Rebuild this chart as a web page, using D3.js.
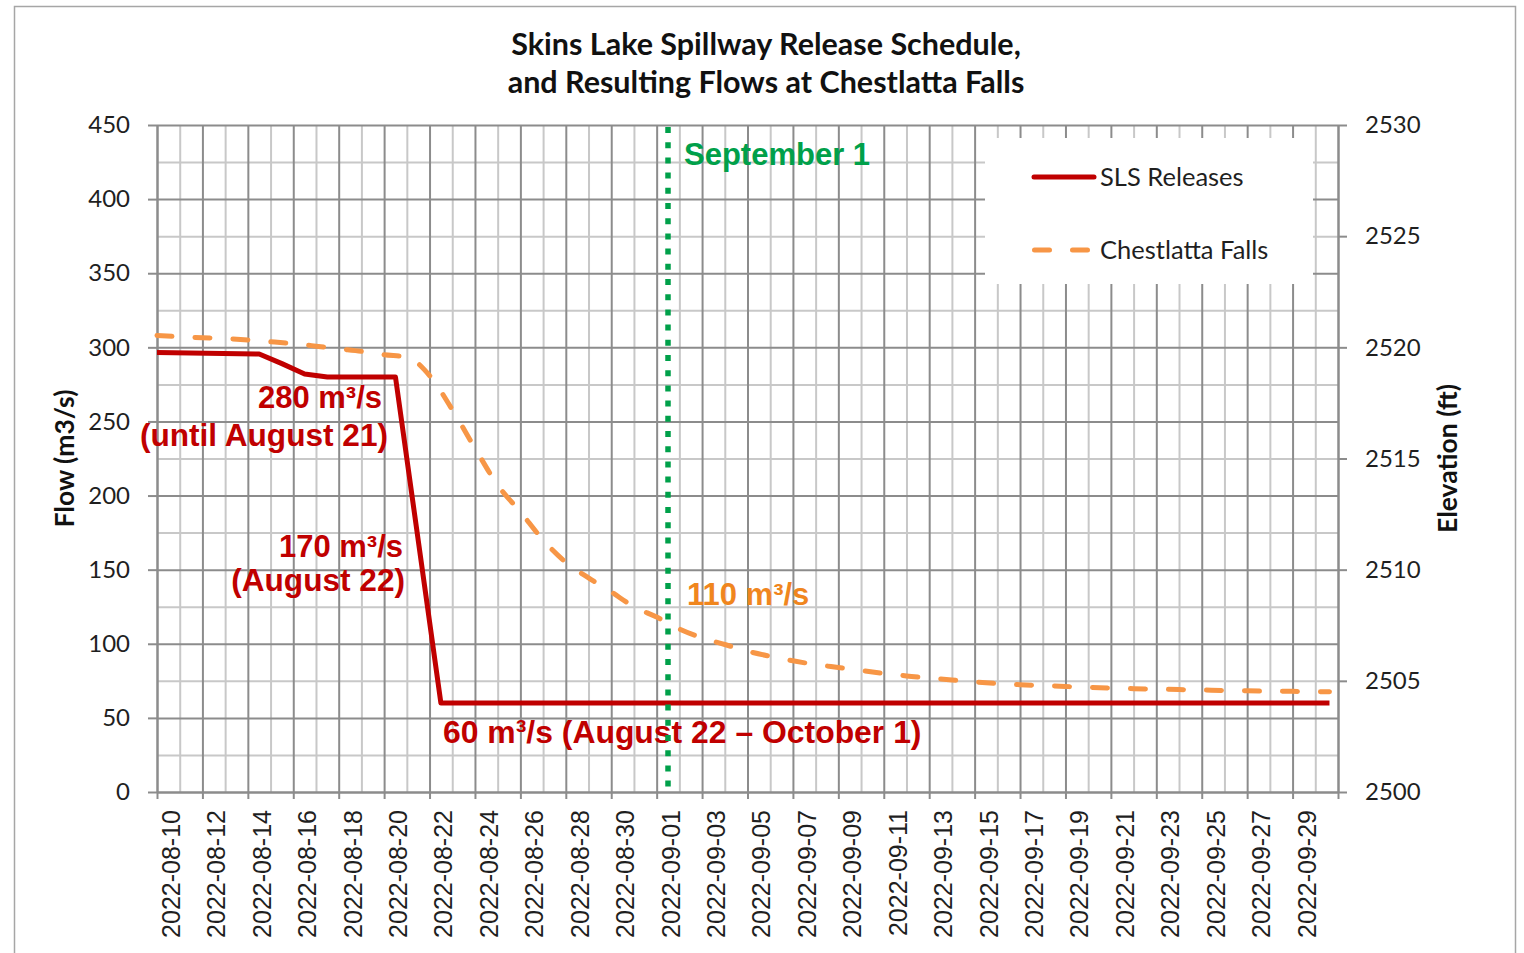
<!DOCTYPE html>
<html><head><meta charset="utf-8">
<script src="https://cdn.jsdelivr.net/npm/d3@7"></script>
<style>body{margin:0;background:#fff;} svg{display:block;}</style>
</head><body><svg id="c" width="1524" height="953"></svg>
<script>
// ---------- DATA ----------
const chartTitle = ["Skins Lake Spillway Release Schedule,", "and Resulting Flows at Chestlatta Falls"];
const xTickLabels = ["2022-08-10","2022-08-12","2022-08-14","2022-08-16","2022-08-18","2022-08-20","2022-08-22",
  "2022-08-24","2022-08-26","2022-08-28","2022-08-30","2022-09-01","2022-09-03","2022-09-05","2022-09-07",
  "2022-09-09","2022-09-11","2022-09-13","2022-09-15","2022-09-17","2022-09-19","2022-09-21","2022-09-23",
  "2022-09-25","2022-09-27","2022-09-29"];
const xDomain = ["2022-08-10", "2022-10-01"];
const yTicks = [0,50,100,150,200,250,300,350,400,450];
const y2Ticks = [2500,2505,2510,2515,2520,2525,2530];

const slsDates = ["2022-08-10T00:00","2022-08-14T12:00","2022-08-15T12:00","2022-08-16T12:00","2022-08-17T12:00",
  "2022-08-20T12:00","2022-08-22T12:00","2022-09-30T15:00"];
const slsValues = [296.5,295.5,289,282,280,280,60,60];

const fallsDates = ["2022-08-10","2022-08-11","2022-08-12","2022-08-13","2022-08-14","2022-08-15","2022-08-16",
  "2022-08-17","2022-08-18","2022-08-19","2022-08-20","2022-08-21","2022-08-22","2022-08-23","2022-08-24",
  "2022-08-25","2022-08-26","2022-08-27","2022-08-28","2022-08-29","2022-08-30","2022-08-31","2022-09-01",
  "2022-09-02","2022-09-03","2022-09-04","2022-09-05","2022-09-06","2022-09-07","2022-09-08","2022-09-09",
  "2022-09-10","2022-09-11","2022-09-12","2022-09-13","2022-09-14","2022-09-15","2022-09-16","2022-09-17",
  "2022-09-18","2022-09-19","2022-09-20","2022-09-21","2022-09-22","2022-09-23","2022-09-24","2022-09-25",
  "2022-09-26","2022-09-27","2022-09-28","2022-09-29","2022-09-30","2022-09-30T15:00"];
const fallsValues = [308,307.2,306.5,306,305,303.8,302.5,300.8,299,297.3,295,293.5,281,258,232,
  207,189,170,155,144.5,135,125,118,110,104,99.5,95,91.5,88.5,86,84,82,80,78.3,77,75.6,74.3,73.2,
  72.4,71.8,71.2,70.6,70.1,69.7,69.4,69.1,68.8,68.5,68.3,68.1,67.9,67.7,67.6];

const markerDate = "2022-09-01T12:00";
const seriesNames = ["SLS Releases", "Chestlatta Falls"];

// ---------- SETUP ----------
const parse = s => d3.timeParse(s.length > 10 ? "%Y-%m-%dT%H:%M" : "%Y-%m-%d")(s);
const svg = d3.select("#c");
const L = 157, R = 1338, T = 125, B = 792;
const CAL = "Lato, 'Open Sans', sans-serif";
const ARI = "'Liberation Sans', Arial, sans-serif";
const RED = "#C00000", ORANGE = "#F79646", GREEN = "#00A04A";
const MAJ = "#8c8c8c", MIN = "#c8c8c8";

const x = d3.scaleTime().domain(xDomain.map(parse)).range([L, R]);
const y = d3.scaleLinear().domain([0, 450]).range([B, T]);
const y2 = d3.scaleLinear().domain([2500, 2530]).range([B, T]);

svg.append("rect").attr("width", 1524).attr("height", 953).attr("fill", "#fff");
svg.append("rect").attr("x", 14.5).attr("y", 6.5).attr("width", 1501).attr("height", 970)
  .attr("fill", "none").attr("stroke", "#a6a6a6").attr("stroke-width", 1.5);

// ---------- GRID ----------
const allDays = d3.timeDay.range(parse(xDomain[0]), d3.timeDay.offset(parse(xDomain[1]), 1));
const majorDays = allDays.filter((d, i) => i % 2 === 0);
const minorDays = allDays.filter((d, i) => i % 2 === 1);
const gridV = (vals, col) => svg.append("g").attr("transform", `translate(0,${B})`)
  .call(d3.axisBottom(x).tickValues(vals).tickSize(-(B - T)).tickFormat(""))
  .call(g => g.select(".domain").remove())
  .call(g => g.selectAll("line").attr("stroke", col).attr("stroke-width", 2));
const hMinor = d3.range(25, 450, 50);
const gridH = (vals, col) => svg.append("g").attr("transform", `translate(${L},0)`)
  .call(d3.axisLeft(y).tickValues(vals).tickSize(-(R - L)).tickFormat(""))
  .call(g => g.select(".domain").remove())
  .call(g => g.selectAll("line").attr("stroke", col).attr("stroke-width", 2));
gridV(minorDays, MIN);
gridH(hMinor, MIN);
gridV(majorDays, MAJ);
gridH(yTicks, MAJ);

// ---------- AXES ----------
const styleAxis = g => {
  g.select(".domain").attr("stroke", MAJ).attr("stroke-width", 2);
  g.selectAll(".tick line").attr("stroke", MAJ).attr("stroke-width", 2);
};
svg.append("g").attr("transform", `translate(${L},0)`)
  .call(d3.axisLeft(y).tickValues(yTicks).tickSize(9).tickPadding(18).tickSizeOuter(0).tickFormat(d3.format("d")))
  .call(styleAxis)
  .call(g => g.selectAll("text").attr("font-family", CAL).attr("font-size", 24).attr("fill", "#1f1f1f"));
svg.append("g").attr("transform", `translate(${R},0)`)
  .call(d3.axisRight(y2).tickValues(y2Ticks).tickSize(9).tickPadding(18).tickSizeOuter(0).tickFormat(d3.format("d")))
  .call(styleAxis)
  .call(g => g.selectAll("text").attr("font-family", CAL).attr("font-size", 24).attr("fill", "#1f1f1f"));
const labelSet = new Set(xTickLabels);
const fmt = d3.timeFormat("%Y-%m-%d");
svg.append("g").attr("transform", `translate(0,${B})`)
  .call(d3.axisBottom(x).tickValues(majorDays).tickSize(7).tickSizeOuter(0)
    .tickFormat(d => labelSet.has(fmt(d)) ? fmt(d) : ""))
  .call(styleAxis)
  .call(g => g.selectAll("text")
    .attr("font-family", ARI).attr("font-size", 25).attr("fill", "#1f1f1f")
    .attr("text-anchor", "end").attr("y", null).attr("dy", "0.35em")
    .attr("transform", "translate(13.7,18) rotate(-90)").attr("x", 0));

// axis titles
svg.append("text").attr("transform", `translate(65,${(T + B) / 2}) rotate(-90)`)
  .attr("text-anchor", "middle").attr("dy", "0.35em")
  .attr("font-family", CAL).attr("font-weight", "bold").attr("font-size", 26.5).attr("fill", "#111")
  .text("Flow (m3/s)");
svg.append("text").attr("transform", `translate(1448,${(T + B) / 2}) rotate(-90)`)
  .attr("text-anchor", "middle").attr("dy", "0.35em")
  .attr("font-family", CAL).attr("font-weight", "bold").attr("font-size", 26.5).attr("fill", "#111")
  .text("Elevation (ft)");

// title
svg.append("text").attr("x", 766).attr("y", 55).attr("text-anchor", "middle")
  .attr("font-family", CAL).attr("font-weight", "bold").attr("font-size", 30.5).attr("fill", "#111")
  .text(chartTitle[0]);
svg.append("text").attr("x", 766).attr("y", 93).attr("text-anchor", "middle")
  .attr("font-family", CAL).attr("font-weight", "bold").attr("font-size", 30.5).attr("fill", "#111")
  .text(chartTitle[1]);

// ---------- SERIES ----------
const sls = slsDates.map((d, i) => ({ d: parse(d), v: slsValues[i] }));
const falls = fallsDates.map((d, i) => ({ d: parse(d), v: fallsValues[i] }));

svg.append("path").datum(falls)
  .attr("d", d3.line().x(p => x(p.d)).y(p => y(p.v)).curve(d3.curveMonotoneX))
  .attr("fill", "none").attr("stroke", ORANGE).attr("stroke-width", 5)
  .attr("stroke-linecap", "round").attr("stroke-dasharray", "15,23");
svg.append("path").datum(sls)
  .attr("d", d3.line().x(p => x(p.d)).y(p => y(p.v)))
  .attr("fill", "none").attr("stroke", RED).attr("stroke-width", 5)
  .attr("stroke-linejoin", "round");

// ---------- ANNOTATIONS ----------
const ann = (txt, px, py, anchor, col, fs) => svg.append("text").attr("x", px).attr("y", py)
  .attr("text-anchor", anchor).attr("font-family", ARI).attr("font-weight", "bold")
  .attr("font-size", fs || 31).attr("fill", col).text(txt);
ann("280 m³/s", 382, 408, "end", RED);
ann("(until August 21)", 388, 446, "end", RED, 31.6);
ann("170 m³/s", 403, 557, "end", RED);
ann("(August 22)", 405, 591, "end", RED, 31.6);
ann("60 m³/s (August 22 – October 1)", 443, 743, "start", RED, 31.9);
ann("110 m³/s", 687, 605, "start", "#F0861E");
ann("September 1", 684, 165, "start", GREEN);

// marker line
const mx = x(parse(markerDate));
svg.append("line").attr("x1", mx).attr("x2", mx).attr("y1", T + 2).attr("y2", B + 2)
  .attr("stroke", GREEN).attr("stroke-width", 5.5).attr("stroke-dasharray", "6,9.2");

// ---------- LEGEND ----------
const lg = svg.append("g");
lg.append("rect").attr("x", 985).attr("y", 138).attr("width", 328).attr("height", 146).attr("fill", "#fff");
lg.append("line").attr("x1", 1034).attr("x2", 1094).attr("y1", 177).attr("y2", 177)
  .attr("stroke", RED).attr("stroke-width", 5).attr("stroke-linecap", "round");
lg.append("line").attr("x1", 1034.5).attr("x2", 1090).attr("y1", 250).attr("y2", 250)
  .attr("stroke", ORANGE).attr("stroke-width", 5).attr("stroke-linecap", "round").attr("stroke-dasharray", "15,23");
lg.append("text").attr("x", 1100).attr("y", 177).attr("dy", "0.35em")
  .attr("font-family", CAL).attr("font-size", 25.5).attr("fill", "#1f1f1f").text(seriesNames[0]);
lg.append("text").attr("x", 1100).attr("y", 250).attr("dy", "0.35em")
  .attr("font-family", CAL).attr("font-size", 25.5).attr("fill", "#1f1f1f").text(seriesNames[1]);
</script>
</body></html>
